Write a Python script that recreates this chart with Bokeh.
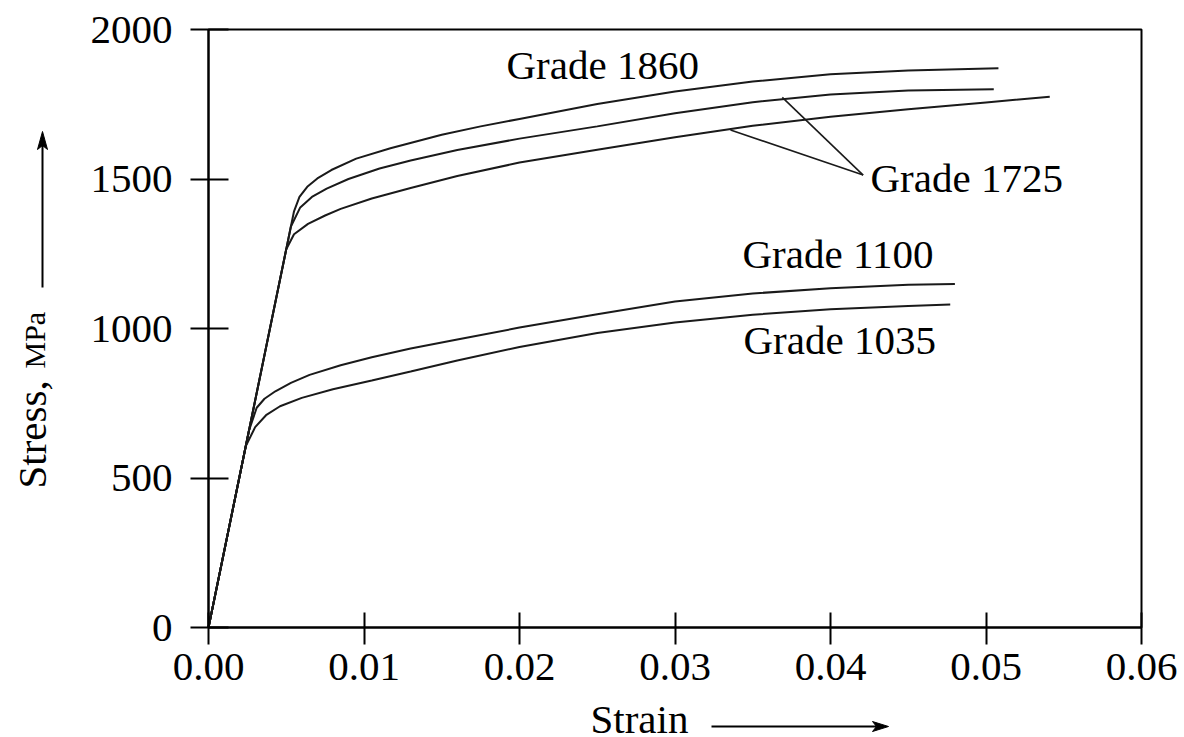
import math
from bokeh.plotting import figure
from bokeh.models import Range1d, FixedTicker, PrintfTickFormatter, LinearAxis
from bokeh.core.properties import value
from bokeh.embed import file_html
from bokeh.resources import INLINE

# ---------------- data ----------------
x_ticks = [0.0, 0.01, 0.02, 0.03, 0.04, 0.05, 0.06]
y_ticks = [0, 500, 1000, 1500, 2000]

strain_1860 = [0, 0.00550, 0.00585, 0.00635, 0.0070, 0.0079, 0.0095, 0.0117, 0.0150, 0.0175,
               0.0200, 0.0250, 0.0300, 0.0350, 0.0400, 0.0450, 0.0508]
stress_1860 = [0, 1392, 1440, 1474, 1502, 1530, 1568, 1603, 1648, 1676,
               1701, 1751, 1793, 1826, 1850, 1863, 1870]

strain_1725a = [0, 0.00530, 0.00590, 0.00665, 0.00760, 0.0090, 0.0110, 0.0130, 0.0160, 0.0200,
                0.0250, 0.0300, 0.0350, 0.0400, 0.0450, 0.0505]
stress_1725a = [0, 1341, 1405, 1440, 1468, 1500, 1535, 1562, 1597, 1635,
                1676, 1720, 1757, 1783, 1796, 1800]

strain_1725b = [0, 0.00500, 0.00550, 0.00640, 0.00750, 0.0085, 0.0105, 0.0130, 0.0160, 0.0200,
                0.0250, 0.0300, 0.0350, 0.0400, 0.0450, 0.0500, 0.0541]
stress_1725b = [0, 1265, 1315, 1350, 1378, 1400, 1435, 1470, 1510, 1555,
                1598, 1640, 1678, 1708, 1733, 1756, 1775]

strain_1100 = [0, 0.0026, 0.0031, 0.0036, 0.0043, 0.0053, 0.0065, 0.0085, 0.0105, 0.0130,
               0.0160, 0.0200, 0.0250, 0.0300, 0.0350, 0.0400, 0.0450, 0.0480]
stress_1100 = [0, 658, 735, 765, 790, 818, 845, 877, 904, 933,
               963, 1003, 1048, 1090, 1117, 1135, 1146, 1149]

strain_1035 = [0, 0.0024, 0.0030, 0.0037, 0.0046, 0.0060, 0.0080, 0.0105, 0.0130, 0.0160,
               0.0200, 0.0250, 0.0300, 0.0350, 0.0400, 0.0450, 0.0477]
stress_1035 = [0, 607, 670, 710, 740, 768, 797, 826, 856, 893,
               938, 985, 1020, 1046, 1064, 1075, 1080]

grade_names = ["Grade 1860", "Grade 1725", "Grade 1100", "Grade 1035"]

# leader lines for the "Grade 1725" label (tip -> points on the two curves)
leader_x = [[0.0421, 0.0369], [0.0421, 0.03357]]
leader_y = [[1513, 1773], [1513, 1664]]

# ---------------- layout helpers (page pixels -> data) ----------------
W, H = 1184, 737
X0, X1 = 208, 1141   # pixel of strain 0 and 0.06
Y0, Y1 = 627, 29     # pixel of stress 0 and 2000
SX = (X1 - X0) / (x_ticks[-1] - x_ticks[0])
SY = (Y0 - Y1) / (y_ticks[-1] - y_ticks[0])


def dx(px):
    return (px - X0) / SX


def dy(py):
    return (Y0 - py) / SY


FONT = "Liberation Serif"
INK = "#1a1a1a"
FS = "41px"

p = figure(width=W, height=H, output_backend="svg", toolbar_location=None,
           x_range=Range1d(dx(0), dx(W)), y_range=Range1d(dy(H), dy(0)),
           x_axis_location=None, y_axis_location=None,
           min_border=0, min_border_left=0, min_border_right=0,
           min_border_top=0, min_border_bottom=0)
p.grid.visible = False
p.background_fill_color = "white"
p.border_fill_color = "white"
p.outline_line_color = None

xa = LinearAxis(fixed_location=0, bounds=(x_ticks[0], x_ticks[-1]),
                ticker=FixedTicker(ticks=x_ticks), formatter=PrintfTickFormatter(format="%.2f"))
ya = LinearAxis(fixed_location=0, bounds=(y_ticks[0], y_ticks[-1]),
                ticker=FixedTicker(ticks=y_ticks), formatter=PrintfTickFormatter(format="%d"))
for ax in (xa, ya):
    ax.axis_line_color = "black"
    ax.axis_line_width = 2
    ax.major_tick_line_color = "black"
    ax.major_tick_line_width = 2
    ax.minor_tick_line_color = None
    ax.major_label_text_font = FONT
    ax.major_label_text_font_size = FS
    ax.major_label_text_color = "black"
xa.major_tick_in = 15
xa.major_tick_out = 17
xa.major_label_standoff = 9
ya.major_tick_in = 20
ya.major_tick_out = 18
ya.major_label_standoff = 18
p.add_layout(xa, "below")
p.add_layout(ya, "left")

# frame box (top and right edges)
p.quad(left=[x_ticks[0]], right=[x_ticks[-1]], bottom=[y_ticks[0]], top=[y_ticks[-1]],
       fill_color=None, line_color="black", line_width=2)

# curves
for xs, ys in [(strain_1860, stress_1860), (strain_1725a, stress_1725a), (strain_1725b, stress_1725b),
               (strain_1100, stress_1100), (strain_1035, stress_1035)]:
    p.line(xs, ys, line_color=INK, line_width=2)

p.multi_line(leader_x, leader_y, line_color=INK, line_width=1.6)

TXT = dict(text_font=value(FONT), text_color="black",
           text_align=value("left"), text_baseline=value("middle"))

# curve labels
p.text(x=[dx(506), dx(870), dx(742), dx(743)],
       y=[dy(64), dy(177), dy(253), dy(339)],
       text=grade_names, text_font_size=value(FS), **TXT)

# axis titles
p.text(x=[dx(31)], y=[dy(488)], text=["Stress,"], angle=math.pi / 2,
       text_font_size=value(FS), **TXT)
p.text(x=[dx(34)], y=[dy(368)], text=["MPa"], angle=math.pi / 2,
       text_font_size=value("30px"), **TXT)
p.text(x=[dx(590)], y=[dy(718)], text=["Strain"],
       text_font_size=value(FS), **TXT)

# arrows next to the axis titles (shaft + narrow notched head)
p.segment(x0=[dx(42), dx(711)], y0=[dy(287), dy(726)],
          x1=[dx(42), dx(876)], y1=[dy(141), dy(726)], line_color="black", line_width=2)
p.patches(xs=[[dx(42), dx(37), dx(42), dx(47)],
              [dx(888), dx(872), dx(876), dx(872)]],
          ys=[[dy(131), dy(149), dy(145), dy(149)],
              [dy(726), dy(721), dy(726), dy(731)]],
          fill_color="black", line_color="black", line_width=1)

open("out.html", "w").write(file_html(p, INLINE))
